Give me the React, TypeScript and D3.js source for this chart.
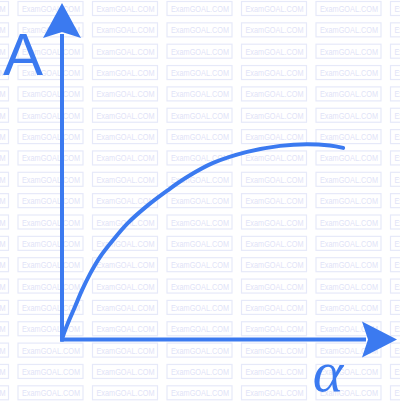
import * as d3 from "d3";

// curve (arbitrary units, 0..10 on both axes)
const alphaVals = [0, 0.04, 0.18, 0.39, 0.61, 0.85, 1.15, 1.55, 2.0, 2.58, 3.21, 3.79, 4.58, 5.61, 6.61, 7.42, 8.12, 8.52];
const aVals = [0, 0.13, 0.49, 0.97, 1.48, 1.96, 2.46, 2.97, 3.48, 3.99, 4.46, 4.85, 5.27, 5.6, 5.78, 5.83, 5.79, 5.72];

const W = 400;
const H = 401;
const BLUE = "#3b7af0";

export default function App() {
  const x = d3.scaleLinear().domain([0, 10]).range([62, 392]);
  const y = d3.scaleLinear().domain([0, 10]).range([339.5, 4.5]);

  const line = d3
    .line<number>()
    .x((_, i) => x(alphaVals[i]))
    .y((d) => y(d))
    .curve(d3.curveCatmullRom.alpha(0.5));

  // watermark grid
  const marks: { x: number; y: number }[] = [];
  for (let r = 0; r < 20; r++) {
    for (let c = -1; c < 6; c++) {
      marks.push({ x: 18 + c * 74.5, y: 1.5 + r * 21.35 });
    }
  }

  const ox = x(0);
  const oy = y(0);

  return (
    <svg
      width={W}
      height={H}
      style={{ position: "absolute", left: 0, top: 0, background: "#fff" }}
    >
      <g>
        {marks.map((m, i) => (
          <g key={i} transform={`translate(${m.x},${m.y})`}>
            <rect width={65} height={14} fill="none" stroke="#e6e9f9" strokeWidth={1.2} />
            <text
              x={4}
              y={10.5}
              textLength={58}
              lengthAdjust="spacingAndGlyphs"
              fontFamily="Liberation Sans, Arial, sans-serif"
              fontSize={9.5}
              fill="#dfe3f7"
            >
              ExamGOAL.COM
            </text>
          </g>
        ))}
      </g>

      {/* axes */}
      <line x1={ox} y1={oy + 2} x2={ox} y2={34} stroke={BLUE} strokeWidth={4} />
      <line x1={ox - 2} y1={oy} x2={366} y2={oy} stroke={BLUE} strokeWidth={4} />
      <path d={`M${ox},3 L${ox + 19},38 L${ox},32 L${ox - 19},38 Z`} fill={BLUE} />
      <path d={`M397,${oy} L362,${oy + 18} L368,${oy} L362,${oy - 18} Z`} fill={BLUE} />

      <path
        d={line(aVals) ?? ""}
        fill="none"
        stroke={BLUE}
        strokeWidth={4}
        strokeLinecap="round"
      />

      <text x={3} y={75} fontFamily="Liberation Sans, Arial, sans-serif" fontSize={60} fill={BLUE}>
        A
      </text>
      <text
        x={328}
        y={391}
        textAnchor="middle"
        fontFamily="Liberation Serif, Times New Roman, serif"
        fontStyle="italic"
        fontSize={58}
        fill={BLUE}
      >
        α
      </text>
    </svg>
  );
}
